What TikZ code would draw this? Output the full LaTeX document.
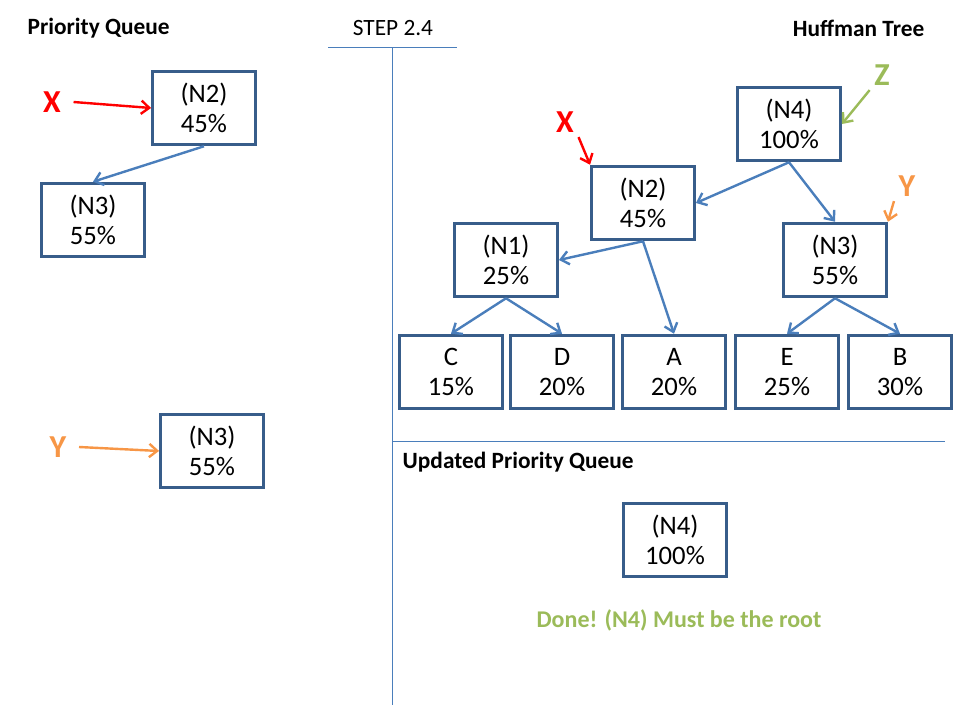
\documentclass[tikz,border=0pt]{standalone}
\usepackage{fontspec}
\usetikzlibrary{arrows.meta}
\setmainfont{Carlito}
\definecolor{boxblue}{RGB}{56,93,138}
\definecolor{linkblue}{RGB}{74,126,187}
\definecolor{tagorange}{RGB}{247,150,70}
\definecolor{taggreen}{RGB}{155,187,89}
\begin{document}
\begin{tikzpicture}[x=0.75pt,y=-0.75pt, >={Straight Barb[length=6pt,width=10pt]},
  qbox/.style={draw=boxblue, line width=2.4pt, minimum width=77pt, minimum height=55pt, inner sep=0pt, align=center, font=\fontsize{20}{23}\selectfont},
  link/.style={->, linkblue, line width=1.8pt},
  tag/.style={font=\fontsize{24}{28}\selectfont\bfseries},
  title/.style={font=\fontsize{17.5}{20}\selectfont\bfseries}]
\useasboundingbox (0,0) rectangle (960,720);
\draw [linkblue, line width=0.75pt] (328,48)--(457,48);
\draw [linkblue, line width=0.75pt] (392,48)--(392,705);
\draw [linkblue, line width=0.75pt] (392,441)--(945,441);
\node[title, anchor=west] (pqtitle) at (23,28) {Priority Queue};
\node[font=\fontsize{17.5}{20}\selectfont] (step) at (393,28) {STEP 2.4};
\node[title, anchor=east] (httitle) at (929,28) {Huffman Tree};
\node[title, anchor=west] (uptitle) at (398,462) {Updated Priority Queue};
% priority queue
\node[qbox] (pqn2) at (204,108) {(N2)\\45\%};
\node[qbox] (pqn3) at (93,220) {(N3)\\55\%};
\node[qbox] (pqy) at (212,451) {(N3)\\55\%};
\draw [link] (pqn2.south) -- (pqn3.north);
\node[tag, red] (xa) at (52,102) {X};
\draw [->, red, line width=1.8pt] (xa.east) ++(6pt,0) -- (pqn2.west);
\node[tag, tagorange] (ya) at (58,447) {Y};
\draw [->, tagorange, line width=1.8pt] (ya.east) ++(6pt,0) -- (pqy.west);
% huffman tree
\node[qbox] (hn4) at (789,124) {(N4)\\100\%};
\node[qbox] (hn2) at (643,203) {(N2)\\45\%};
\node[qbox] (hn1) at (506,260) {(N1)\\25\%};
\node[qbox] (hn3) at (835,260) {(N3)\\55\%};
\node[qbox] (lc) at (451,372) {C\\15\%};
\node[qbox] (ld) at (562,372) {D\\20\%};
\node[qbox] (la) at (674,372) {A\\20\%};
\node[qbox] (le) at (787,372) {E\\25\%};
\node[qbox] (lb) at (900,372) {B\\30\%};
\draw [link] (hn4.south) -- (hn2.east);
\draw [link] (hn4.south) -- (hn3.north);
\draw [link] (hn2.south) -- (hn1.east);
\draw [link] (hn2.south) -- (la.north);
\draw [link] (hn1.south) -- (lc.north);
\draw [link] (hn1.south) -- (ld.north);
\draw [link] (hn3.south) -- (le.north);
\draw [link] (hn3.south) -- (lb.north);
\node[tag, red] (xb) at (565,122) {X};
\draw [->, red, line width=1.8pt] (xb.south east) -- (hn2.north west);
\node[tag, taggreen] (za) at (882,75) {Z};
\draw [->, taggreen, line width=1.8pt] (za.south west) -- (hn4.east);
\node[tag, tagorange] (yb) at (907,186) {Y};
\draw [->, tagorange, line width=1.8pt] (yb.south west) -- (hn3.north east);
% updated queue
\node[qbox] (upn4) at (675,540) {(N4)\\100\%};
\node[taggreen, font=\fontsize{18}{22}\selectfont\bfseries] (done) at (679,620) {Done! (N4) Must be the root};
\end{tikzpicture}
\end{document}
